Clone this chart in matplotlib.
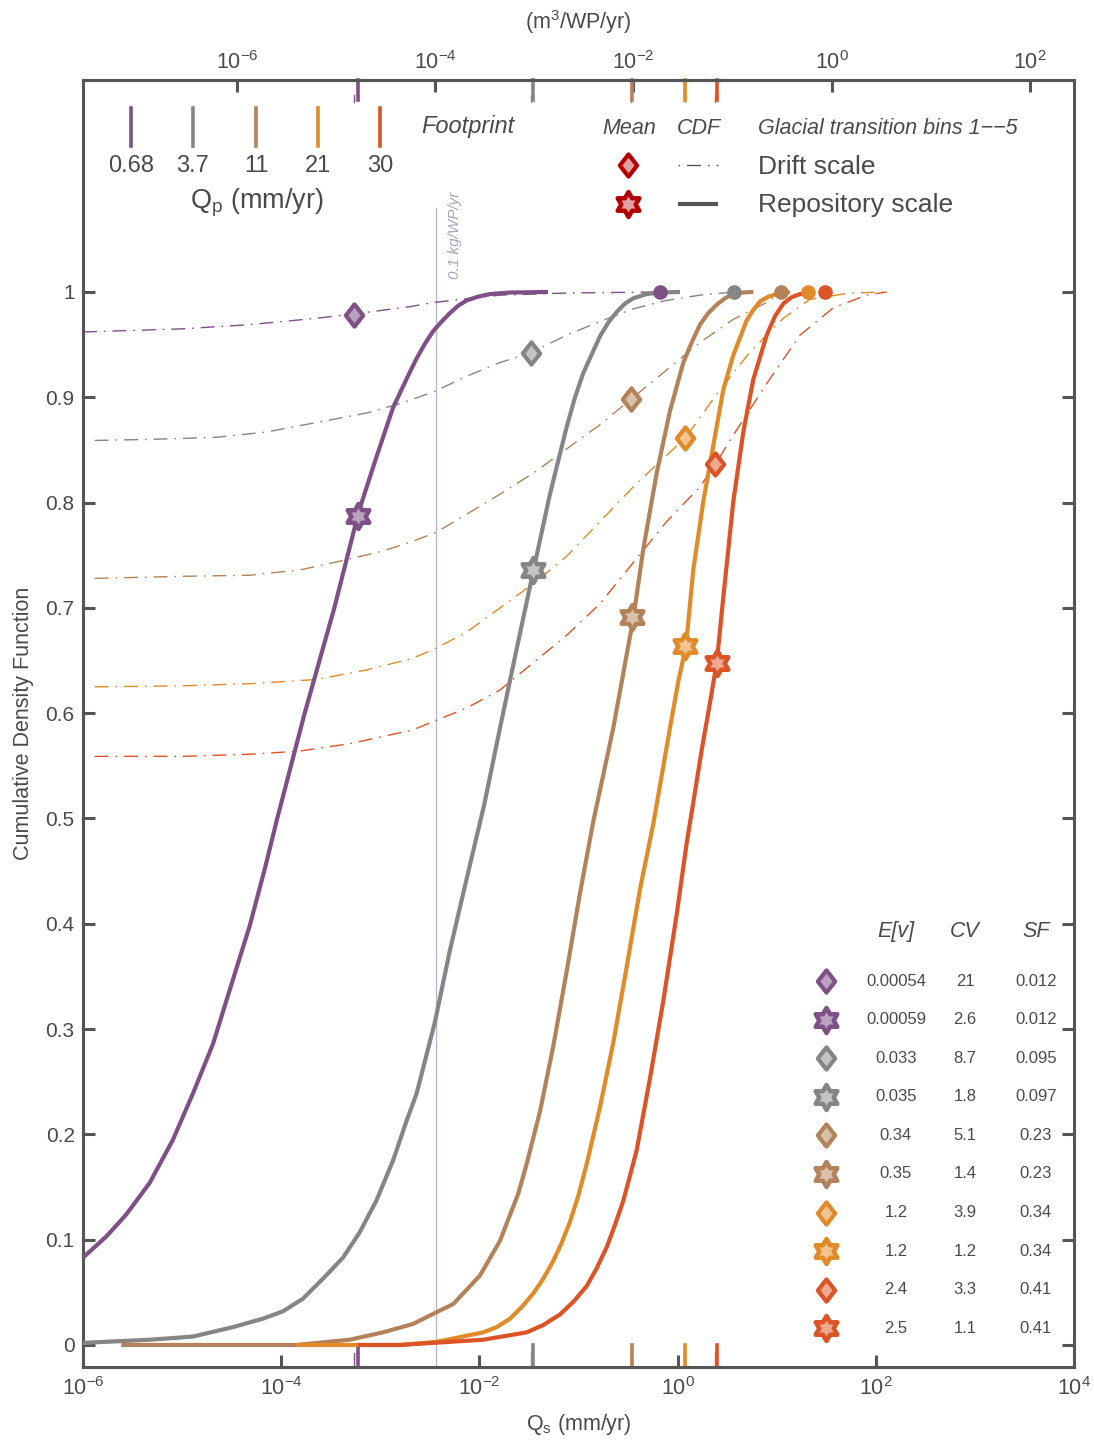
import numpy as np
import matplotlib
matplotlib.use('Agg')
import matplotlib.pyplot as plt
from matplotlib.lines import Line2D
from matplotlib.path import Path
from matplotlib.ticker import NullLocator

plt.rcParams['font.family'] = ['Liberation Sans', 'DejaVu Sans']
plt.rcParams['mathtext.default'] = 'regular'

# glacial transition bins 1-5
colors = ['#7E5086', '#858585', '#B3825A', '#E08A28', '#DC5426']
light = ['#BBA2C0', '#C4C4C4', '#D9C2AA', '#F2C392', '#F0A98E']
qp_labels = ['0.68', '3.7', '11', '21', '30']

# table values
ev_drift = [0.00054, 0.033, 0.34, 1.2, 2.4]
cv_drift = ['21', '8.7', '5.1', '3.9', '3.3']
sf_drift = ['0.012', '0.095', '0.23', '0.34', '0.41']
ev_repo = [0.00059, 0.035, 0.35, 1.2, 2.5]
cv_repo = ['2.6', '1.8', '1.4', '1.2', '1.1']
sf_repo = ['0.012', '0.097', '0.23', '0.34', '0.41']
ev_drift_lbl = ['0.00054', '0.033', '0.34', '1.2', '2.4']
ev_repo_lbl = ['0.00059', '0.035', '0.35', '1.2', '2.5']

# CDF at the mean markers
cdf_at_drift_mean = [0.978, 0.942, 0.898, 0.861, 0.837]
cdf_at_repo_mean = [0.787, 0.736, 0.691, 0.664, 0.648]

# end points (log10 Qs) of the drift curves, dots at CDF = 1
end_lq = [-0.178, 0.569, 1.043, 1.316, 1.488]

# repository scale CDFs: log10(Qs), CDF
repo_lq = [
    [-6.00, -5.765, -5.563, -5.327, -5.092, -4.890, -4.688, -4.520, -4.318, -4.166,
     -4.04, -3.763, -3.464, -3.232, -3.188, -3.040, -2.872, -2.717, -2.633, -2.549,
     -2.465, -2.380, -2.297, -2.213, -2.128, -2.011, -1.893, -1.691, -1.308],
    [-6.0, -5.327, -4.890, -4.486, -4.184, -3.982, -3.780, -3.578, -3.376, -3.208,
     -3.040, -2.872, -2.738, -2.633, -2.448, -2.297, -2.128, -1.954, -1.792, -1.624,
     -1.456, -1.288, -1.119, -1.035, -0.952, -0.783, -0.699, -0.615, -0.531, -0.447,
     -0.312, -0.178, 0.024],
    [-5.614, -3.848, -3.309, -2.973, -2.670, -2.263, -1.994, -1.792, -1.607, -1.523,
     -1.388, -1.254, -1.119, -0.985, -0.851, -0.649, -0.548, -0.447, -0.346, -0.211,
     -0.077, 0.058, 0.142, 0.226, 0.310, 0.395, 0.478, 0.562, 0.663, 0.764],
    [-3.848, -2.801, -2.431, -1.961, -1.825, -1.691, -1.573, -1.456, -1.355, -1.254,
     -1.170, -1.086, -0.998, -0.917, -0.783, -0.649, -0.514, -0.379, -0.245, -0.077,
     0.007, 0.085, 0.158, 0.259, 0.360, 0.461, 0.562, 0.697, 0.764, 0.832, 0.915,
     1.000, 1.134],
    [-3.226, -2.801, -1.961, -1.523, -1.355, -1.187, -1.052, -0.917, -0.816, -0.715,
     -0.632, -0.548, -0.480, -0.413, -0.279, -0.144, -0.009, 0.092, 0.158, 0.243,
     0.327, 0.395, 0.461, 0.562, 0.663, 0.764, 0.899, 0.983, 1.067, 1.151, 1.235,
     1.336],
]
repo_cdf = [
    [0.083, 0.103, 0.124, 0.154, 0.195, 0.239, 0.286, 0.337, 0.398, 0.452,
     0.500, 0.600, 0.700, 0.786, 0.800, 0.843, 0.890, 0.921, 0.937, 0.951,
     0.963, 0.972, 0.980, 0.987, 0.992, 0.9956, 0.998, 0.9995, 1.0],
    [0.002, 0.005, 0.008, 0.017, 0.025, 0.032, 0.044, 0.063, 0.083, 0.107,
     0.137, 0.175, 0.212, 0.239, 0.307, 0.375, 0.443, 0.512, 0.586, 0.661,
     0.735, 0.808, 0.872, 0.900, 0.923, 0.958, 0.971, 0.981, 0.989, 0.994,
     0.998, 0.9995, 1.0],
    [0.0, 0.0, 0.005, 0.012, 0.020, 0.039, 0.066, 0.099, 0.144, 0.172,
     0.222, 0.284, 0.355, 0.429, 0.497, 0.586, 0.638, 0.690, 0.756, 0.828,
     0.887, 0.933, 0.952, 0.969, 0.980, 0.988, 0.994, 0.998, 0.9995, 1.0],
    [0.0, 0.0, 0.003, 0.012, 0.017, 0.025, 0.036, 0.049, 0.063, 0.080,
     0.097, 0.117, 0.143, 0.172, 0.226, 0.287, 0.359, 0.433, 0.495, 0.586,
     0.630, 0.664, 0.736, 0.801, 0.854, 0.907, 0.940, 0.973, 0.983, 0.991, 0.9955,
     0.998, 1.0],
    [0.0, 0.0, 0.005, 0.012, 0.019, 0.029, 0.041, 0.056, 0.073, 0.093,
     0.114, 0.137, 0.161, 0.185, 0.253, 0.327, 0.409, 0.477, 0.515, 0.565,
     0.610, 0.648, 0.710, 0.801, 0.867, 0.917, 0.959, 0.977, 0.989, 0.995, 0.998,
     1.0],
]

# drift scale CDFs: log10(Qs), CDF
drift_lq = [
    [-6.0, -4.991, -4.318, -3.646, -3.275, -2.703, -2.465, -1.792, -1.119, -0.178],
    [-5.882, -5.327, -4.655, -4.150, -3.646, -3.141, -2.801, -2.465, -2.128, -1.792,
     -1.489, -1.119, -0.783, -0.447, -0.110, 0.226, 0.569],
    [-5.882, -4.991, -4.318, -3.813, -3.376, -2.973, -2.677, -2.431, -2.128, -1.792,
     -1.456, -1.119, -0.783, -0.473, -0.110, 0.226, 0.562, 0.899, 1.043],
    [-5.882, -4.991, -4.318, -3.646, -3.141, -2.677, -2.431, -2.128, -1.792, -1.456,
     -1.119, -0.783, -0.447, -0.110, 0.075, 0.395, 0.731, 1.067, 1.336, 1.740, 2.110],
    [-5.882, -4.991, -4.318, -3.813, -3.309, -2.677, -2.465, -2.128, -1.792, -1.456,
     -1.119, -0.783, -0.447, -0.110, 0.226, 0.377, 0.562, 0.899, 1.235, 1.571, 1.908, 2.110],
]
drift_cdf = [
    [0.962, 0.965, 0.969, 0.975, 0.979, 0.986, 0.990, 0.997, 0.999, 1.0],
    [0.859, 0.860, 0.862, 0.867, 0.876, 0.885, 0.894, 0.905, 0.920, 0.933,
     0.942, 0.959, 0.972, 0.984, 0.992, 0.997, 1.0],
    [0.728, 0.730, 0.731, 0.736, 0.745, 0.754, 0.763, 0.772, 0.789, 0.808,
     0.828, 0.851, 0.874, 0.898, 0.926, 0.952, 0.974, 0.990, 1.0],
    [0.625, 0.626, 0.628, 0.632, 0.641, 0.652, 0.662, 0.677, 0.700, 0.723,
     0.749, 0.782, 0.815, 0.845, 0.861, 0.903, 0.943, 0.975, 0.993, 0.999, 1.0],
    [0.559, 0.559, 0.561, 0.564, 0.571, 0.584, 0.592, 0.605, 0.622, 0.648,
     0.674, 0.704, 0.743, 0.782, 0.815, 0.836, 0.864, 0.913, 0.959, 0.985, 0.997, 1.0],
]

q_kg_line = 10 ** -2.438   # 0.1 kg/WP/yr
conv = 10 ** -1.554        # mm/yr -> m3/WP/yr

txt = '#4a4a4a'
axc = '#555555'
W, H = 1094, 1446


def closed(verts):
    return Path(verts + [verts[0]],
                [Path.MOVETO] + [Path.LINETO] * (len(verts) - 1) + [Path.CLOSEPOLY])


# markers
ang = np.pi / 2 + np.arange(12) * np.pi / 6
rad = np.where(np.arange(12) % 2 == 0, 1.0, 1 / np.sqrt(3))
star = closed([(float(r * np.cos(a)), float(r * np.sin(a))) for r, a in zip(rad, ang)])
diamond = closed([(0.0, 1.0), (0.78, 0.0), (0.0, -1.0), (-0.78, 0.0)])
dd = (10, 5, 1.2, 5)


def fp(x, y):
    return x / W, 1 - y / H


fig = plt.figure(figsize=(W / 100, H / 100), dpi=100)
ax = fig.add_axes([83 / W, 1 - 1367 / H, 991 / W, 1287 / H])
ax.set_xscale('log')
ylo, yhi = -0.0209, 1.2013

ax.plot([q_kg_line, q_kg_line], [ylo, 1.08], color='#b4b4d4', lw=0.9, zorder=1)
ax.text(10 ** -2.246, 1.012, '0.1 kg/WP/yr', rotation=90, style='italic',
        color='#a4a4bc', ha='center', va='bottom', fontsize=11)

for i, c in enumerate(colors):
    ax.plot(10 ** np.array(drift_lq[i]), drift_cdf[i], color=c, lw=1.0,
            dashes=dd, zorder=2)
for i, c in enumerate(colors):
    ax.plot(10 ** np.array(repo_lq[i]), repo_cdf[i], color=c, lw=3.0,
            solid_capstyle='butt', solid_joinstyle='round', zorder=3)
for i, c in enumerate(colors):
    ax.plot(10 ** end_lq[i], 1.0, 'o', ms=9.5, color=c, zorder=4)
    ax.plot(ev_drift[i], cdf_at_drift_mean[i], marker=diamond, ms=16, mfc=light[i],
            mec=c, mew=3, ls='none', zorder=6)
    ax.plot(ev_repo[i], cdf_at_repo_mean[i], marker=star, ms=18, mfc=light[i],
            mec=c, mew=3.2, ls='none', zorder=6)
    # footprint ticks
    ax.plot([ev_repo[i]] * 2, [ylo, 0.0], color=c, lw=2.6, clip_on=False, zorder=1.5)
    ax.plot([ev_repo[i]] * 2, [1.182, yhi], color=c, lw=2.6, clip_on=False, zorder=1.5)
    ax.plot([ev_drift[i]] * 2, [ylo, -0.008], color=c, lw=1.0, clip_on=False, zorder=1.4)
    ax.plot([ev_drift[i]] * 2, [1.180, 1.187], color=c, lw=1.0, clip_on=False, zorder=1.4)

ax.set_xlim(1e-6, 1e4)
ax.set_ylim(ylo, yhi)
ax.set_xticks([1e-6, 1e-4, 1e-2, 1e0, 1e2, 1e4])
ax.xaxis.set_minor_locator(NullLocator())
yt = np.round(np.arange(0, 1.01, 0.1), 1)
ax.set_yticks(yt)
ax.set_yticklabels(['0'] + ['%.1f' % v for v in yt[1:-1]] + ['1'])
ax.tick_params(axis='both', direction='in', length=8.5, width=2.2, color=axc,
               labelcolor=txt, top=False, right=True)
ax.tick_params(axis='x', labelsize=15.5, pad=7)
ax.tick_params(axis='y', labelsize=15, pad=6)
for s in ax.spines.values():
    s.set_color(axc)
    s.set_linewidth(2.2)
ax.set_ylabel('Cumulative Density Function', fontsize=15.5, color=txt, labelpad=8)
ax.set_xlabel('Q$_s$ (mm/yr)', fontsize=15.5, color=txt, labelpad=9)

sec = ax.secondary_xaxis('top', functions=(lambda q: q * conv, lambda m: m / conv))
sec.set_xticks([1e-6, 1e-4, 1e-2, 1e0, 1e2])
sec.xaxis.set_minor_locator(NullLocator())
sec.tick_params(direction='in', length=8.5, width=2.2, color=axc, labelcolor=txt,
                labelsize=15.5, pad=4)
sec.spines['top'].set_color(axc)
sec.spines['top'].set_linewidth(2.2)
sec.set_xlabel('(m$^3$/WP/yr)', fontsize=15.5, color=txt, labelpad=16)

# footprint legend (top left)
leg_x = [131, 193, 256, 318, 380]
for i, c in enumerate(colors):
    x0, y0 = fp(leg_x[i], 108)
    x1, y1 = fp(leg_x[i], 146)
    fig.add_artist(Line2D([x0, x1], [y0, y1], color=c, lw=2.6))
    fig.text(*fp(leg_x[i], 166), qp_labels[i], ha='center', va='center',
             fontsize=17, color=txt)
fig.text(*fp(257, 203), 'Q$_p$ (mm/yr)', ha='center', va='center', fontsize=19.5, color=txt)
fig.text(*fp(421, 127), 'Footprint', ha='left', va='center', fontsize=17,
         style='italic', color=txt)

# scale legend (top right)
fig.text(*fp(629, 128), 'Mean', ha='center', va='center', fontsize=15.5,
         style='italic', color=txt)
fig.text(*fp(699, 128), 'CDF', ha='center', va='center', fontsize=15.5,
         style='italic', color=txt)
fig.text(*fp(758, 128), 'Glacial transition bins 1\u2212\u22125', ha='left',
         va='center', fontsize=15.5, style='italic', color=txt)
fig.add_artist(Line2D([fp(628, 0)[0]], [fp(0, 165)[1]], marker=diamond, ms=16,
                      mfc='#E2A0A0', mec='#B40000', mew=3, ls='none'))
fig.add_artist(Line2D([fp(628, 0)[0]], [fp(0, 204)[1]], marker=star, ms=18,
                      mfc='#E2A0A0', mec='#B40000', mew=3.2, ls='none'))
fig.add_artist(Line2D([fp(678, 0)[0], fp(718, 0)[0]], [fp(0, 165)[1]] * 2,
                      color=axc, lw=1.0, dashes=(1.2, 5, 10, 5)))
fig.add_artist(Line2D([fp(678, 0)[0], fp(718, 0)[0]], [fp(0, 204)[1]] * 2,
                      color=axc, lw=3.0, solid_capstyle='butt'))
fig.text(*fp(758, 167), 'Drift scale', ha='left', va='center', fontsize=19, color=txt)
fig.text(*fp(758, 205), 'Repository scale', ha='left', va='center', fontsize=19, color=txt)

# statistics table (bottom right)
col_x = [896, 965, 1036]
for xh, h in zip(col_x, ['E[v]', 'CV', 'SF']):
    fig.text(*fp(xh, 931), h, ha='center', va='center', fontsize=15.5,
             style='italic', color=txt)
for i, c in enumerate(colors):
    rows = [(diamond, 16, 3, ev_drift_lbl[i], cv_drift[i], sf_drift[i]),
            (star, 18, 3.2, ev_repo_lbl[i], cv_repo[i], sf_repo[i])]
    for j, (mk, ms, mw, e, cvv, sff) in enumerate(rows):
        yy = 981 + 38.6 * (2 * i + j)
        fig.add_artist(Line2D([fp(826, 0)[0]], [fp(0, yy)[1]], marker=mk, ms=ms,
                              mfc=light[i], mec=c, mew=mw, ls='none'))
        for xc, s in zip(col_x, [e, cvv, sff]):
            fig.text(*fp(xc, yy), s, ha='center', va='center', fontsize=12, color=txt)

fig.savefig('out.png', dpi=100)
